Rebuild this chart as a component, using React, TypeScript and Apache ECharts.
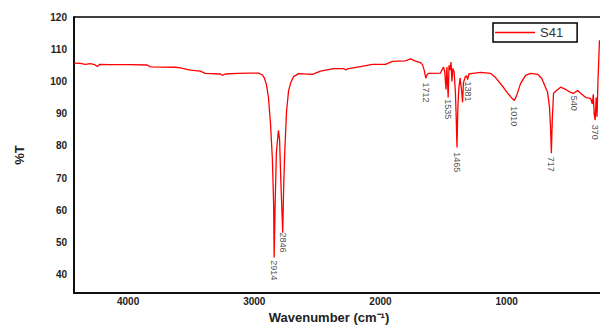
import React, { useEffect, useRef } from "react";
import * as echarts from "echarts";

const wavenumber = [
  4498, 4450, 4410, 4372, 4335, 4316, 4295, 4213, 4054, 3920, 3895, 3697, 3657, 3578, 3500, 3460,
  3340, 3324, 3300, 3205, 3102, 3039, 3007, 2991, 2975, 2959, 2943, 2928, 2918, 2914, 2906, 2896,
  2880, 2871, 2860, 2846, 2838, 2830, 2816, 2800, 2784, 2760, 2720, 2610, 2547, 2444, 2365, 2349,
  2325, 2230, 2135, 2032, 1977, 1874, 1833, 1794, 1754, 1739, 1725, 1712, 1703, 1691, 1596, 1572,
  1562, 1552, 1545, 1535, 1528, 1520, 1512, 1505, 1498, 1488, 1478, 1472, 1465, 1458, 1450, 1440,
  1428, 1421, 1414, 1400, 1390, 1381, 1370, 1340, 1278, 1199, 1159, 1096, 1056, 1030, 1010, 993,
  961, 921, 882, 826, 794, 763, 747, 732, 724, 717, 710, 704, 700, 676, 644, 604, 565, 540, 509,
  485, 445, 406, 392, 385, 378, 370, 362, 355, 348, 342, 336,
];

const transmittance = [
  105.7, 105.6, 105.3, 105.5, 105.2, 104.6, 105.3, 105.2, 105.2, 105.1, 104.5, 104.4, 104.2, 103.5, 103.2, 102.5,
  102.3, 101.9, 102.3, 102.5, 102.6, 102.6, 102.0, 101.0, 99.0, 95.0, 87.0, 76.0, 62.0, 45.3, 62.0, 78.0,
  84.8, 82.0, 68.0, 53.0, 68.0, 78.0, 90.5, 97.0, 99.4, 101.5, 102.4, 102.2, 103.2, 104.0, 104.0, 103.6,
  104.0, 104.6, 105.3, 105.3, 106.2, 106.4, 107.0, 106.3, 105.8, 105.2, 103.5, 101.0, 102.0, 102.5, 102.6, 104.5,
  103.0, 97.5, 104.5, 95.0, 105.0, 103.5, 106.0, 100.0, 104.0, 103.0, 97.0, 90.0, 79.5, 92.0, 98.0, 101.0,
  97.0, 93.5, 99.5, 101.4, 101.8, 100.6, 102.3, 102.5, 102.8, 102.5, 101.2, 98.1, 96.0, 94.8, 94.1, 95.5,
  99.4, 101.9, 102.5, 102.2, 101.0, 98.1, 96.6, 92.0, 86.0, 77.7, 88.0, 93.0, 96.3, 97.2, 98.2, 97.5, 96.6, 96.3, 97.2,
  96.3, 95.0, 94.7, 93.0, 96.0, 90.0, 88.0, 95.0, 89.0, 100.0, 106.0, 112.8,
];

const peakWavenumbers = [2914, 2846, 1712, 1535, 1465, 1381, 1010, 717, 540, 370];
const peakLabelLevels = [42.0, 50.6, 97.2, 92.0, 75.5, 97.5, 89.8, 74.9, 93.8, 84.8];

const xTickLabels = [1000, 2000, 3000, 4000];
const yTickLabels = [40, 50, 60, 70, 80, 90, 100, 110, 120];

const seriesName = "S41";

export default function App() {
  const ref = useRef<HTMLDivElement>(null);

  useEffect(() => {
    if (!ref.current) return;
    const chart = echarts.init(ref.current, null, { renderer: "svg" });
    const lineData = wavenumber.map((w, i) => [w, transmittance[i]]);
    const labelData = peakWavenumbers.map((w, i) => [w, peakLabelLevels[i]]);
    chart.setOption({
      animation: false,
      backgroundColor: "#ffffff",
      grid: {
        left: 74,
        right: -4,
        top: 17,
        bottom: 34,
        containLabel: false,
        outerBoundsMode: "none",
        show: true,
        borderColor: "#000",
        borderWidth: 1.5,
        backgroundColor: "transparent",
      },
      legend: {
        data: [seriesName],
        left: 493,
        top: 23,
        icon: "rect",
        itemWidth: 40,
        itemHeight: 1.5,
        padding: [3, 14, 3, 2],
        borderColor: "#000",
        borderWidth: 1.5,
        borderRadius: 0,
        backgroundColor: "#fff",
        textStyle: { fontSize: 13, color: "#333", fontFamily: "Arial, Liberation Sans, sans-serif" },
      },
      xAxis: {
        type: "value",
        inverse: true,
        min: 300,
        max: 4500,
        name: "Wavenumber (cm\u207B\u00B9)",
        nameLocation: "middle",
        nameGap: 16,
        nameTextStyle: {
          fontSize: 13,
          fontWeight: "bold",
          color: "#222",
          fontFamily: "Arial, Liberation Sans, sans-serif",
          padding: [0, 20, 0, 0],
        },
        axisLine: { show: true, lineStyle: { color: "#000", width: 1.5 } },
        axisTick: { show: false },
        splitLine: { show: false },
        axisLabel: {
          customValues: xTickLabels,
          formatter: (v: number) => String(v),
          margin: 3,
          fontSize: 10,
          fontWeight: "bold",
          color: "#222",
          fontFamily: "Arial, Liberation Sans, sans-serif",
          padding: [0, 18, 0, 0],
        },
      },
      yAxis: {
        type: "value",
        min: 34.3,
        max: 120,
        name: "%T",
        nameLocation: "middle",
        nameGap: 48,
        nameTextStyle: {
          fontSize: 13,
          fontWeight: "bold",
          color: "#222",
          fontFamily: "Arial, Liberation Sans, sans-serif",
        },
        axisLine: { show: true, lineStyle: { color: "#000", width: 1.5 } },
        axisTick: { show: false },
        splitLine: { show: false },
        axisLabel: {
          customValues: yTickLabels,
          formatter: (v: number) => String(v),
          margin: 7,
          fontSize: 10,
          fontWeight: "bold",
          color: "#222",
          fontFamily: "Arial, Liberation Sans, sans-serif",
        },
      },
      series: [
        {
          name: seriesName,
          type: "line",
          data: lineData,
          symbol: "none",
          lineStyle: { color: "#ff0000", width: 1.3 },
          itemStyle: { color: "#ff0000" },
          z: 2,
        },
        {
          name: "peaks",
          type: "scatter",
          data: labelData,
          symbolSize: 0,
          silent: true,
          z: 3,
          label: {
            show: true,
            position: "inside",
            rotate: -90,
            offset: [2, 0],
            formatter: (p: any) => String(p.value[0]),
            fontSize: 9,
            color: "#222",
            fontFamily: "Liberation Sans Narrow, Arial, sans-serif",
          },
        },
      ],
    });
    return () => chart.dispose();
  }, []);

  return (
    <div
      ref={ref}
      style={{ position: "fixed", left: 0, top: 0, width: 600, height: 327, background: "#fff" }}
    />
  );
}
